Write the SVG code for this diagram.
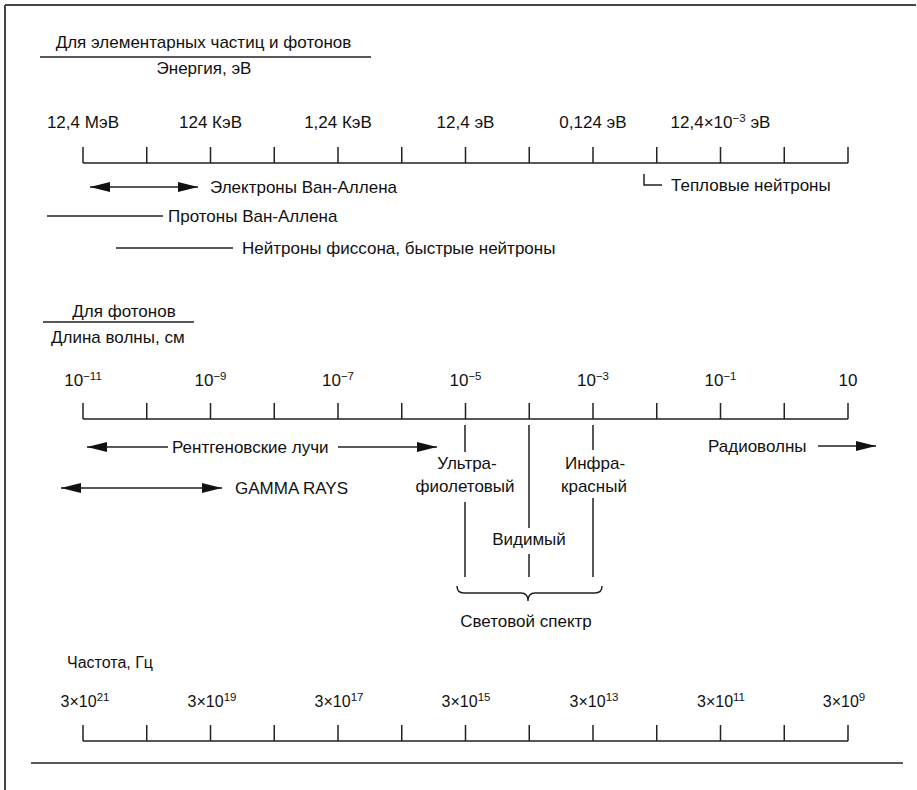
<svg xmlns="http://www.w3.org/2000/svg" width="917" height="790" viewBox="0 0 917 790">
<defs>
<style>
.t{font-family:"Liberation Sans",Arial,sans-serif;font-size:17px;fill:#111}
.f{font-family:"Liberation Sans",Arial,sans-serif;font-size:16px;fill:#111}
.m{text-anchor:middle}
.sup{font-size:11.5px}
.ln{stroke:#222;stroke-width:1.5;fill:none}
.bd{stroke:#444;stroke-width:2;fill:none}
</style>
<marker id="ah" viewBox="0 0 20 10" refX="20" refY="5" markerWidth="20" markerHeight="10" markerUnits="userSpaceOnUse" orient="auto-start-reverse">
<path d="M0,0 L20,5 L0,10 z" fill="#111"/>
</marker>
<path id="ticks" d="M83,0V16M146.75,0V16M210.5,0V16M274.25,0V16M338,0V16M401.75,0V16M465.5,0V16M529.25,0V16M593,0V16M656.75,0V16M720.5,0V16M784.25,0V16M848,0V16M83,16H848"/>
</defs>
<g id="frame">
<path class="bd" d="M5,5H916M5,5V790"/>
<path class="ln" d="M31,763H903"/>
</g>
<g id="energy-header">
<text class="t m" x="203.5" y="48">Для элементарных частиц и фотонов</text>
<path class="ln" d="M40,57H371"/>
<text class="t m" x="204" y="74">Энергия, эВ</text>
</g>
<g id="energy-axis">
<use href="#ticks" class="ln" transform="translate(0,147)"/>
<text class="t m" x="83" y="128">12,4 МэВ</text>
<text class="t m" x="210.5" y="128">124 КэВ</text>
<text class="t m" x="338" y="128">1,24 КэВ</text>
<text class="t m" x="465.5" y="128">12,4 эВ</text>
<text class="t m" x="593" y="128">0,124 эВ</text>
<text class="t m" x="720.5" y="128">12,4×10<tspan class="sup" dy="-6">−3</tspan><tspan dy="6"> эВ</tspan></text>
</g>
<g id="particles">
<text class="t" x="210" y="193">Электроны Ван-Аллена</text>
<text class="t" x="168" y="222">Протоны Ван-Аллена</text>
<text class="t" x="242" y="254">Нейтроны фиссона, быстрые нейтроны</text>
<text class="t" x="671" y="191">Тепловые нейтроны</text>
</g>
<g id="photon-header">
<text class="t m" x="124" y="317">Для фотонов</text>
<path class="ln" d="M43,322H194"/>
<text class="t" x="51" y="343">Длина волны, см</text>
</g>
<g id="wavelength-axis">
<use href="#ticks" class="ln" transform="translate(0,403)"/>
<text class="t m" x="83" y="386">10<tspan class="sup" dy="-6">−11</tspan></text>
<text class="t m" x="210.5" y="386">10<tspan class="sup" dy="-6">−9</tspan></text>
<text class="t m" x="338" y="386">10<tspan class="sup" dy="-6">−7</tspan></text>
<text class="t m" x="465.5" y="386">10<tspan class="sup" dy="-6">−5</tspan></text>
<text class="t m" x="593" y="386">10<tspan class="sup" dy="-6">−3</tspan></text>
<text class="t m" x="720.5" y="386">10<tspan class="sup" dy="-6">−1</tspan></text>
<text class="t m" x="848" y="386">10</text>
</g>
<g id="bands">
<text class="t" x="172" y="453">Рентгеновские лучи</text>
<text class="t" x="235" y="494">GAMMA RAYS</text>
<text class="t m" x="467" y="469">Ультра-</text>
<text class="t m" x="465" y="492">фиолетовый</text>
<text class="t m" x="595" y="469">Инфра-</text>
<text class="t m" x="594" y="492">красный</text>
<text class="t m" x="529" y="545">Видимый</text>
<text class="t m" x="526" y="627">Световой спектр</text>
<text class="t" x="708" y="452">Радиоволны</text>
</g>
<g id="frequency">
<text class="f" x="67" y="668">Частота, Гц</text>
<use href="#ticks" class="ln" transform="translate(0,725)"/>
<text class="f m" x="85" y="707">3×10<tspan class="sup" dy="-6">21</tspan></text>
<text class="f m" x="212" y="707">3×10<tspan class="sup" dy="-6">19</tspan></text>
<text class="f m" x="339" y="707">3×10<tspan class="sup" dy="-6">17</tspan></text>
<text class="f m" x="466" y="707">3×10<tspan class="sup" dy="-6">15</tspan></text>
<text class="f m" x="594" y="707">3×10<tspan class="sup" dy="-6">13</tspan></text>
<text class="f m" x="721" y="707">3×10<tspan class="sup" dy="-6">11</tspan></text>
<text class="f m" x="844" y="707">3×10<tspan class="sup" dy="-6">9</tspan></text>
</g>
<g id="connectors">
<line class="ln" x1="90" y1="187" x2="198" y2="187" marker-start="url(#ah)" marker-end="url(#ah)"/>
<path class="ln" d="M47,216H163"/>
<path class="ln" d="M116,248H233"/>
<path class="ln" d="M644,174V185H662"/>
<line class="ln" x1="168" y1="447" x2="87" y2="447" marker-end="url(#ah)"/>
<line class="ln" x1="338" y1="447" x2="437" y2="447" marker-end="url(#ah)"/>
<line class="ln" x1="61" y1="488" x2="222" y2="488" marker-start="url(#ah)" marker-end="url(#ah)"/>
<line class="ln" x1="818" y1="446" x2="876" y2="446" marker-end="url(#ah)"/>
<path class="ln" d="M465,425V452M465,502V577M529,425V528M529,554V577M593,425V450M593,498V577"/>
<path class="ln" d="M457,586Q457,593 464,593H521Q528,593 528,601Q528,593 535,593H595Q602,593 602,586"/>
</g>
</svg>
